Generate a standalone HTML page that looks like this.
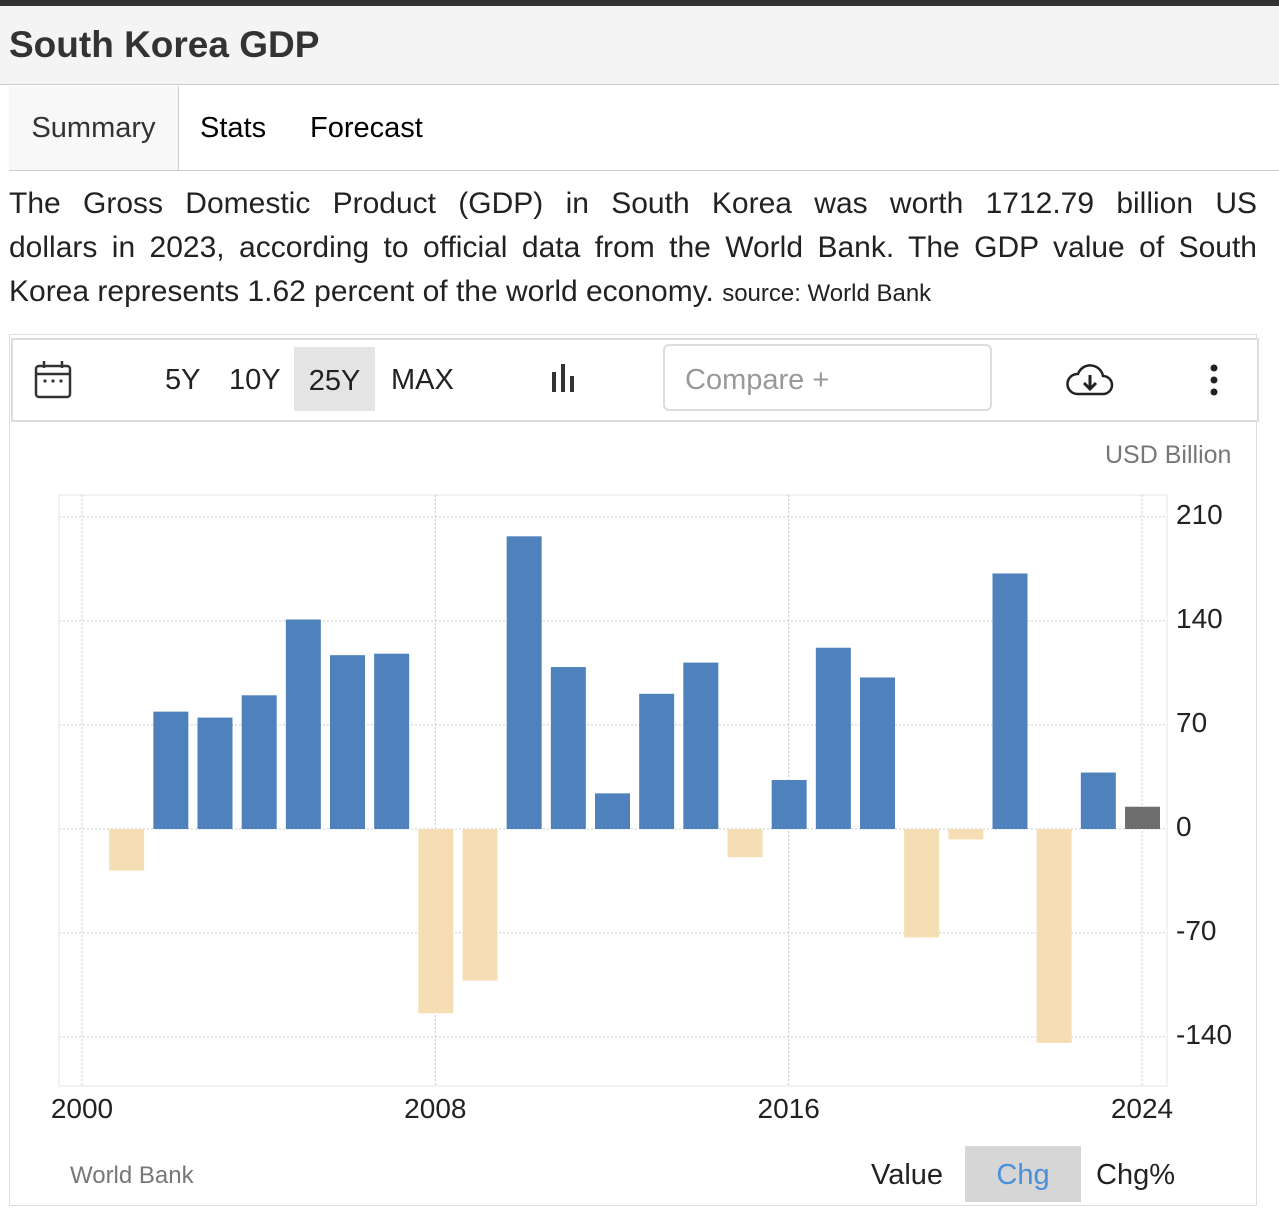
<!DOCTYPE html>
<html><head><meta charset="utf-8">
<style>
body{margin:0;width:1279px;height:1210px;background:#fff;font-family:"Liberation Sans",sans-serif;overflow:hidden;position:relative}
.abs{position:absolute}
.dl{width:1248px;font-size:30px;line-height:44px;height:44px;color:#222;text-align:justify;text-align-last:justify;white-space:nowrap}
</style></head><body>
<div class="abs" style="left:0;top:0;width:1279px;height:6px;background:#333"></div>
<div class="abs" style="left:0;top:6px;width:1279px;height:78px;background:#f4f4f4;border-bottom:1px solid #ccc"></div>
<div class="abs" style="left:9px;top:24px;font-size:37px;font-weight:bold;color:#333">South Korea GDP</div>
<div class="abs" style="left:9px;top:86px;width:1270px;height:84px;border-bottom:1px solid #ccc;border-left:1px solid #ccc"></div>
<div class="abs" style="left:9px;top:86px;width:169px;height:84px;border-right:1px solid #ccc;background:#f8f8f8;font-size:29px;line-height:84px;text-align:center;color:#333">Summary</div>
<div class="abs" style="left:200px;top:86px;font-size:29px;line-height:84px;color:#000">Stats</div>
<div class="abs" style="left:310px;top:86px;font-size:29px;line-height:84px;color:#000">Forecast</div>
<div class="abs" style="left:9px;top:182px">
<div class="dl" style="white-space:normal">The Gross Domestic Product (GDP) in South Korea was worth 1712.79 billion US</div>
<div class="dl" style="white-space:normal">dollars in 2023, according to official data from the World Bank. The GDP value of South</div>
<div class="dl" style="text-align:left;text-align-last:left">Korea represents 1.62 percent of the world economy. <span style="font-size:24px">source: World Bank</span></div>
</div>
<div class="abs" style="left:9px;top:334px;width:1246px;height:870px;border:1px solid #ddd"></div>
<div class="abs" style="left:11px;top:338px;width:1244px;height:80px;border:2px solid #ddd;background:#fff"></div>
<svg class="abs" style="left:34px;top:360px" width="40" height="40"><rect x="2" y="6" width="34" height="31" rx="3" fill="none" stroke="#333" stroke-width="2.5"/><line x1="2" y1="14" x2="36" y2="14" stroke="#333" stroke-width="2.5"/><line x1="10" y1="1" x2="10" y2="8" stroke="#333" stroke-width="2.5"/><line x1="28" y1="1" x2="28" y2="8" stroke="#333" stroke-width="2.5"/><circle cx="11" cy="21" r="1.6" fill="#333"/><circle cx="19" cy="21" r="1.6" fill="#333"/><circle cx="27" cy="21" r="1.6" fill="#333"/></svg>
<div class="abs" style="left:165px;top:364px;font-size:29px;color:#222">5Y</div>
<div class="abs" style="left:229px;top:364px;font-size:29px;color:#222">10Y</div>
<div class="abs" style="left:294px;top:347px;width:81px;height:64px;background:#e4e4e4;font-size:29px;line-height:68px;text-align:center;color:#222">25Y</div>
<div class="abs" style="left:391px;top:364px;font-size:29px;color:#222">MAX</div>
<svg class="abs" style="left:550px;top:364px" width="32" height="30"><rect x="2" y="8" width="4" height="20" fill="#333"/><rect x="11" y="0" width="4" height="28" fill="#333"/><rect x="20" y="12" width="4" height="16" fill="#333"/></svg>
<div class="abs" style="left:663px;top:344px;width:329px;height:67px;border:2px solid #ddd;border-radius:6px;font-size:29px;line-height:68px;padding-left:20px;box-sizing:border-box;color:#999">Compare +</div>
<svg class="abs" style="left:1065px;top:362px" width="50" height="36"><path d="M12 32 H38 A9 9 0 0 0 38 14 A13 13 0 0 0 13 12 A10 10 0 0 0 12 32 Z" fill="none" stroke="#222" stroke-width="2.5"/><path d="M25 13 V26 M19 21 L25 27 L31 21" fill="none" stroke="#222" stroke-width="3"/></svg>
<svg class="abs" style="left:1206px;top:364px" width="16" height="32"><circle cx="8" cy="4" r="3.5" fill="#222"/><circle cx="8" cy="16" r="3.5" fill="#222"/><circle cx="8" cy="28" r="3.5" fill="#222"/></svg>
<div class="abs" style="left:1105px;top:441px;font-size:25px;color:#777">USD Billion</div>
<svg id="chart" class="abs" style="left:0;top:0" width="1279" height="1210"></svg>
<div class="abs" style="left:70px;top:1162px;font-size:24px;color:#777">World Bank</div>
<div class="abs" style="left:871px;top:1159px;font-size:29px;color:#222">Value</div>
<div class="abs" style="left:965px;top:1146px;width:116px;height:56px;background:#d6d6d6;font-size:29px;line-height:58px;text-align:center;color:#4a90d9">Chg</div>
<div class="abs" style="left:1096px;top:1159px;font-size:29px;color:#222">Chg%</div>
<script>
const years=[2001,2002,2003,2004,2005,2006,2007,2008,2009,2010,2011,2012,2013,2014,2015,2016,2017,2018,2019,2020,2021,2022,2023,2024];
const values=[-28,79,75,90,141,117,118,-124,-102,197,109,24,91,112,-19,33,122,102,-73,-7,172,-144,38,15];
const yTicks=[210,140,70,0,-70,-140];
const xTicks=[2000,2008,2016,2024];
const NS="http://www.w3.org/2000/svg";
const svg=document.getElementById('chart');
const y=v=>829-v*(104/70);
const x=yr=>82+(yr-2000)*(1060/24);
function mk(tag,attrs){const e=document.createElementNS(NS,tag);for(const k in attrs)e.setAttribute(k,attrs[k]);svg.appendChild(e);return e;}
let f=mk('rect',{x:59,y:495,width:1108,height:591,fill:'none',stroke:'#e4e4e4'});


yTicks.forEach(t=>{
 const l=mk('line',{x1:59,x2:1167,y1:y(t),y2:y(t),stroke:'#ccc','stroke-dasharray':'2,2'});
 
 
 const tx=mk('text',{x:1176,y:y(t)+7,'font-size':28,fill:'#222','font-family':'Liberation Sans'});
 tx.textContent=t;
 
 
});
xTicks.forEach(t=>{
 const l=mk('line',{x1:x(t),x2:x(t),y1:495,y2:1086,stroke:'#ccc','stroke-dasharray':'2,2'});
 
 
 const tx=mk('text',{x:x(t),y:1118,'font-size':28,fill:'#222','text-anchor':'middle','font-family':'Liberation Sans'});
 tx.textContent=t;
 
 
});
years.forEach((yr,i)=>{
 const v=values[i];
 const last=i===years.length-1;
 const col=last?'#6e6e6e':(v>=0?'#4f81bd':'#f5deb3');
 const b=mk('rect',{x:x(yr)-17,y:Math.min(y(v),y(0)),width:35,height:Math.abs(y(v)-y(0)),fill:col});
 
 
});
</script>
</body></html>
